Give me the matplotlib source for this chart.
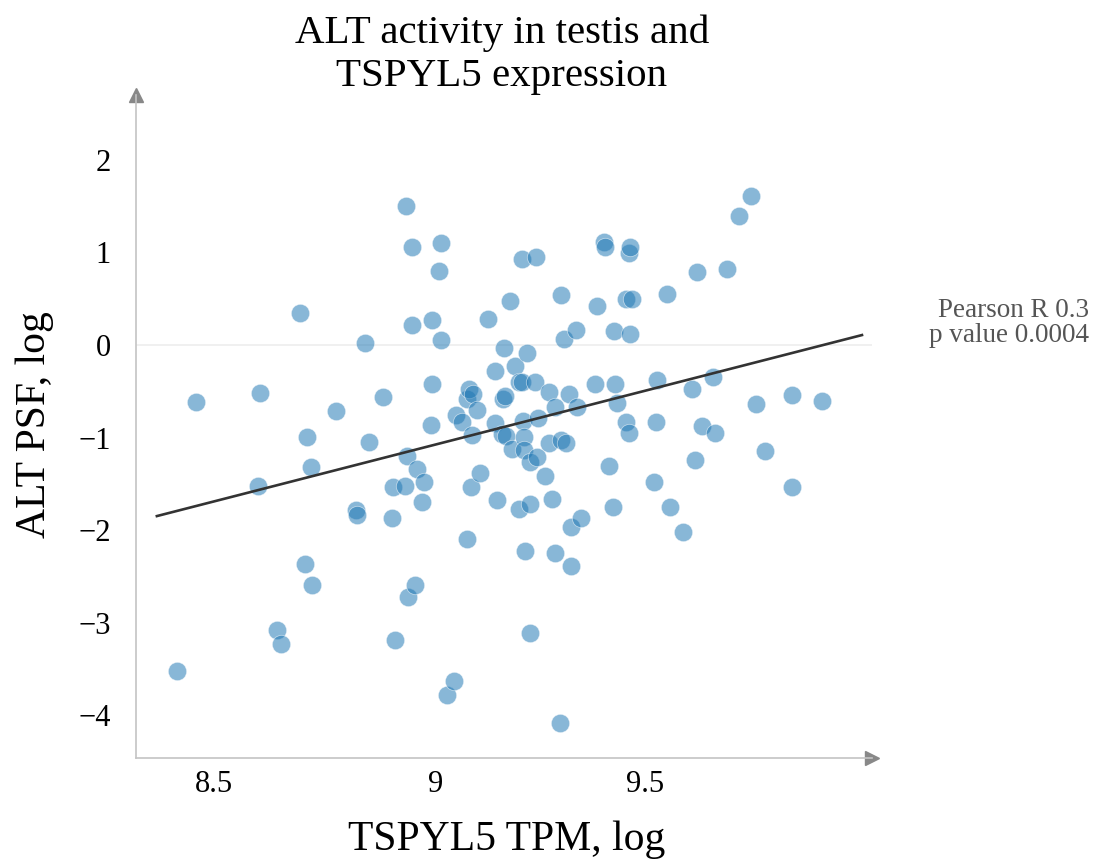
import numpy as np
import matplotlib.pyplot as plt
from matplotlib.ticker import NullLocator

plt.rcParams['font.family'] = ['Liberation Serif', 'DejaVu Serif']

# TSPYL5 TPM (log) vs ALT PSF (log), one point per sample
tpm_log = [
    8.419, 8.461, 8.597, 8.602, 8.691, 8.639, 8.648, 8.702, 8.706, 8.715,
    8.718, 8.772, 8.817, 8.820, 8.838, 8.847, 8.879, 8.900, 8.902, 8.906,
    8.929, 8.932, 8.934, 8.936, 8.946, 8.946, 8.953, 8.957, 8.969, 8.973,
    8.990, 8.992, 8.992, 9.008, 9.013, 9.013, 9.027, 9.043, 9.048, 9.062,
    9.073, 9.073, 9.078, 9.083, 9.085, 9.088, 9.097, 9.104, 9.123, 9.139,
    9.139, 9.144, 9.156, 9.158, 9.163, 9.165, 9.161, 9.175, 9.179, 9.187,
    9.196, 9.196, 9.203, 9.203, 9.206, 9.208, 9.208, 9.210, 9.215, 9.222,
    9.222, 9.222, 9.234, 9.236, 9.239, 9.241, 9.258, 9.268, 9.268, 9.275,
    9.282, 9.282, 9.294, 9.296, 9.296, 9.303, 9.308, 9.316, 9.320, 9.320,
    9.332, 9.335, 9.344, 9.378, 9.383, 9.400, 9.402, 9.412, 9.422, 9.424,
    9.427, 9.432, 9.454, 9.454, 9.461, 9.461, 9.463, 9.463, 9.468, 9.522,
    9.527, 9.529, 9.554, 9.561, 9.594, 9.616, 9.623, 9.628, 9.641, 9.668,
    9.673, 9.703, 9.733, 9.763, 9.776, 9.799, 9.867, 9.867, 9.944,
]
psf_log = [
    -3.520, -0.616, -1.523, -0.518, 0.346, -3.078, -3.229, -2.365, -0.994, -1.317,
    -2.592, -0.713, -1.782, -1.836, 0.022, -1.048, -0.562, -1.868, -1.533, -3.186,
    -1.523, 1.501, -1.199, -2.721, 1.058, 0.216, -2.592, -1.339, -1.695, -1.479,
    -0.864, 0.270, -0.421, 0.799, 1.102, 0.054, -3.780, -3.628, -0.756, -0.832,
    -0.583, -2.095, -0.475, -1.533, -0.972, -0.529, -0.702, -1.382, 0.281, -0.281,
    -0.842, -1.674, -0.961, -0.583, -0.551, -0.983, -0.032, 0.475, -1.123, -0.227,
    -0.400, -1.771, -0.400, 0.929, -0.821, -0.994, -1.134, -2.225, -0.086, -1.263,
    -1.717, -3.110, -0.400, 0.950, -1.209, -0.788, -1.415, -0.508, -1.058, -1.663,
    -0.670, -2.246, -4.082, -1.026, 0.540, 0.065, -1.058, -0.529, -1.965, -2.387,
    0.162, -0.670, -1.868, -0.421, 0.421, 1.112, 1.058, -1.307, -1.749, 0.151,
    -0.421, -0.626, 0.497, -0.832, -0.950, 0.994, 1.058, 0.119, 0.497, -1.479,
    -0.832, -0.378, 0.551, -1.749, -2.019, -0.475, -1.242, 0.788, -0.875, -0.346,
    -0.950, 0.821, 1.393, 1.609, -0.637, -1.145, -0.540, -1.533, -0.605,
]

x_ticks = [8.5, 9, 9.5]
x_tick_labels = ['8.5', '9', '9.5']
y_ticks = [-4, -3, -2, -1, 0, 1, 2]
y_tick_labels = ['\u22124', '\u22123', '\u22122', '\u22121', '0', '1', '2']

fit_x_range = [8.376, 10.047]
pearson_r = 0.3
p_value = 0.0004

W, H = 1093, 861
fig = plt.figure(figsize=(W / 100, H / 100), dpi=100)
ax = fig.add_axes([136 / W, 1 - 758 / H, (872 - 136) / W, (758 - 95) / H])

ax.set_xscale('log')
ax.set_xlim(8.331, 10.073)
ax.set_ylim(-4.46, 2.70)

ax.axhline(0, color='#eeeeee', lw=1.2, zorder=0)

ax.scatter(tpm_log, psf_log, s=175, color='#1f77b4', alpha=0.53,
           edgecolors='white', linewidths=0.6, zorder=2)

# linear regression line
slope, intercept = np.polyfit(tpm_log, psf_log, 1)
fx = np.array(fit_x_range)
ax.plot(fx, slope * fx + intercept - 0.035, color='#333333', lw=1.9, zorder=3)

# axes with arrow heads
for side in ['top', 'right']:
    ax.spines[side].set_visible(False)
for side in ['left', 'bottom']:
    ax.spines[side].set_color('#c4c4c4')
    ax.spines[side].set_linewidth(1.2)
ax.plot([0], [1], marker='^', ms=10, color='#888888', transform=ax.transAxes, clip_on=False)
ax.plot([1], [0], marker='>', ms=10, color='#888888', transform=ax.transAxes, clip_on=False)

ax.xaxis.set_minor_locator(NullLocator())
ax.set_xticks(x_ticks)
ax.set_xticklabels(x_tick_labels)
ax.set_yticks(y_ticks)
ax.set_yticklabels(y_tick_labels)
ax.tick_params(axis='both', length=0, labelsize=22)
ax.tick_params(axis='x', pad=9)
ax.tick_params(axis='y', pad=18)

fig.text(502 / W, 1 - 55 / H, 'ALT activity in testis and\nTSPYL5 expression',
         ha='center', va='center', fontsize=29.5, linespacing=1.2)
fig.text(507 / W, 1 - 840 / H, 'TSPYL5 TPM, log', ha='center', va='center', fontsize=30)
fig.text(35 / W, 1 - 425 / H, 'ALT PSF, log', ha='center', va='center',
         rotation=90, fontsize=30)
fig.text(1089 / W, 1 - 323 / H, f'Pearson R {pearson_r}\np value {p_value}',
         ha='right', va='center', fontsize=19.5, color='#555555', linespacing=1.05)

fig.savefig('out.png', dpi=100)
